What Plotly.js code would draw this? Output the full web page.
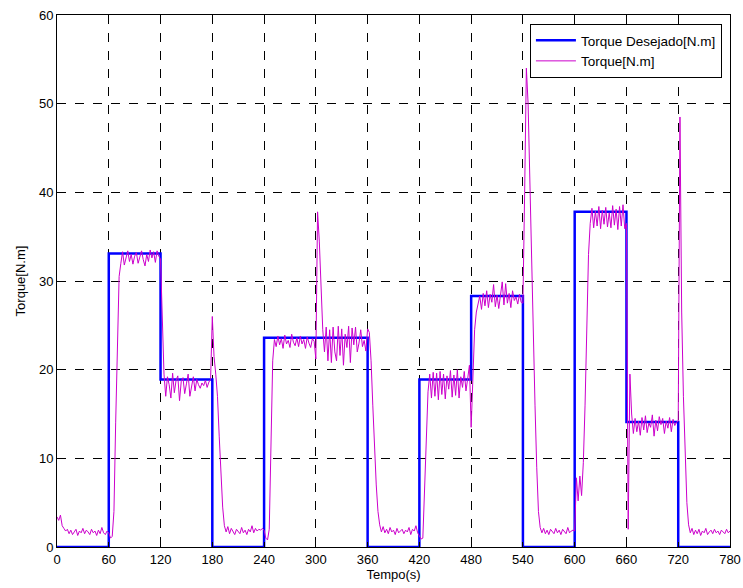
<!DOCTYPE html>
<html>
<head>
<meta charset="utf-8">
<script src="https://cdn.plot.ly/plotly-3.0.1.min.js"></script>
<style>html,body{margin:0;padding:0;background:#fff;}#chart{width:743px;height:588px;}</style>
</head>
<body>
<div id="chart"></div>
<script>
// Desired torque (step reference)
var desiredTime = [0, 60, 120, 180, 240, 300, 360, 420, 480, 540, 600, 660, 720, 780];
var desiredTorque = [0, 33.1, 18.9, 0, 23.6, 23.6, 0, 18.9, 28.3, 0, 37.8, 14.1, 0, 0];

// Measured torque, sampled every 2 s from t = 0 to 780 s
var sampleStep = 2;
var measuredTorque = [
  3.4, 3.0, 3.6, 2.4, 2.1, 1.8, 2.0, 1.5, 1.9, 1.4,
  1.7, 2.0, 1.3, 1.8, 1.6, 2.1, 1.5, 1.9, 1.7, 1.4,
  2.0, 1.6, 1.8, 1.3, 1.9, 1.5, 2.2, 1.6, 1.4, 1.8,
  1.6, 1.0, 1.2, 4.0, 14.0, 24.0, 30.5, 32.0, 33.3, 31.8,
  32.6, 33.4, 32.2, 33.0, 31.9, 32.8, 33.2, 32.0, 32.7, 33.4,
  32.4, 31.7, 33.0, 32.2, 33.5, 32.6, 33.3, 32.1, 33.4, 32.8,
  32.5, 26.0, 19.5, 17.0, 19.2, 18.3, 16.8, 19.6, 17.4, 18.8,
  19.3, 16.5, 18.7, 19.1, 17.3, 18.4, 19.5, 17.0, 18.2, 19.2,
  17.6, 18.9, 18.3, 17.9, 18.5, 18.2, 18.8, 18.0, 18.6, 18.9,
  26.0, 21.5, 19.5, 17.0, 12.5, 8.0, 4.5, 2.4, 1.7, 2.3,
  1.5, 2.1, 1.7, 1.4, 2.0, 1.8, 1.5, 2.2, 1.6, 1.9,
  1.4, 2.0, 1.7, 2.4, 1.6, 2.1, 1.8, 2.0, 1.9, 2.1,
  1.9, 1.0, 0.8, 2.0, 12.0, 21.0, 23.4, 22.6, 23.8, 22.8,
  23.5, 22.4, 23.9, 22.9, 23.3, 22.5, 24.0, 23.1, 22.7, 23.6,
  22.6, 23.8, 22.9, 23.4, 22.4, 23.7, 23.0, 22.5, 23.5, 23.2,
  21.2, 37.8, 34.5, 30.0, 24.5, 22.0, 24.8, 21.0, 24.5, 20.8,
  24.8, 22.0, 21.0, 24.9, 21.6, 24.6, 20.5, 24.0, 22.5, 24.9,
  20.8, 24.7, 22.8, 24.8, 22.0, 23.0, 24.5, 22.6, 23.3, 22.1,
  24.6, 24.2, 21.0, 16.0, 11.0, 7.0, 4.0, 2.5, 1.7, 2.3,
  1.6, 2.0, 1.5, 2.2, 1.7, 1.9, 1.4, 2.1, 1.6, 1.8,
  2.0, 1.5, 1.9, 1.7, 2.2, 1.4, 2.0, 1.8, 2.4, 1.6,
  1.2, 0.9, 1.0, 6.0, 13.0, 17.5, 19.5, 16.8, 19.7, 17.0,
  19.6, 16.6, 19.8, 17.2, 19.5, 16.7, 19.3, 17.8, 19.9, 16.9,
  19.4, 17.1, 20.0, 16.8, 19.2, 18.0, 19.8, 17.6, 19.0, 20.5,
  13.5, 20.0, 24.5, 26.5, 27.5, 28.3, 26.8, 28.6, 27.2, 28.9,
  27.0, 28.5, 27.6, 29.6, 27.1, 28.4, 26.9, 28.8, 29.9, 27.3,
  29.7, 27.5, 28.6, 27.0, 28.9, 27.8, 28.2, 27.4, 28.5, 27.6,
  27.5, 40.0, 54.0, 50.0, 41.0, 32.0, 24.0, 16.0, 9.0, 4.0,
  2.2, 1.6, 2.1, 1.5, 1.9, 1.4, 2.0, 1.7, 1.5, 2.1,
  1.6, 1.9, 1.4, 2.0, 1.7, 1.5, 2.2, 1.6, 1.8, 1.9,
  1.8, 7.8, 5.2, 8.0, 5.8, 9.5, 16.0, 25.0, 33.0, 36.5,
  38.2, 36.0, 37.9, 36.2, 38.4, 35.9, 38.0, 36.4, 38.3, 36.1,
  37.7, 36.0, 38.5, 36.3, 38.1, 35.8, 38.4, 36.2, 38.6, 35.9,
  36.5, 2.0, 19.5, 15.0, 12.8, 14.5, 13.0, 14.2, 12.6, 14.6,
  13.2, 14.8, 12.9, 14.0, 13.5, 14.9, 12.5, 14.3, 13.1, 14.7,
  13.8, 14.5, 12.8, 14.2, 13.4, 14.6, 13.0, 14.4, 13.7, 14.1,
  14.2, 48.5, 26.5, 17.0, 10.5, 5.0, 2.5, 1.6, 2.1, 1.4,
  1.9, 1.5, 2.0, 1.3, 1.8, 1.6, 2.1, 1.4, 1.7, 1.9,
  1.5, 2.0, 1.6, 1.8, 1.4, 1.9, 1.7, 1.5, 2.0, 1.6,
  1.8
];
var measuredTime = measuredTorque.map(function (v, i) { return i * sampleStep; });

var xTicks = [0, 60, 120, 180, 240, 300, 360, 420, 480, 540, 600, 660, 720, 780];
var yTicks = [0, 10, 20, 30, 40, 50, 60];

var traces = [
  {
    x: desiredTime, y: desiredTorque, type: 'scatter', mode: 'lines',
    line: {shape: 'hv', color: '#0000ff', width: 2.5},
    name: 'Torque Desejado[N.m]'
  },
  {
    x: measuredTime, y: measuredTorque, type: 'scatter', mode: 'lines',
    line: {color: '#cc00cc', width: 1},
    name: 'Torque[N.m]'
  }
];

var font = {family: 'Liberation Sans, Arial, sans-serif', size: 13, color: '#000'};

var layout = {
  width: 743, height: 588,
  margin: {l: 57, r: 13, t: 15, b: 41},
  paper_bgcolor: '#fff', plot_bgcolor: '#fff',
  font: font,
  showlegend: true,
  legend: {
    x: 0.988, y: 0.983, xanchor: 'right', yanchor: 'top',
    bgcolor: '#fff', bordercolor: '#000', borderwidth: 1,
    font: {family: 'Liberation Sans, Arial, sans-serif', size: 13.5, color: '#000'},
    itemwidth: 40, tracegroupgap: 0
  },
  xaxis: {
    range: [0, 780], tickvals: xTicks, ticktext: xTicks.map(String),
    showgrid: true, gridcolor: '#000', gridwidth: 1, griddash: 'dash',
    zeroline: false, showline: true, linecolor: '#000', linewidth: 1, mirror: 'ticks',
    ticks: 'inside', ticklen: 5, tickcolor: '#000',
    title: {text: 'Tempo(s)', font: font, standoff: 4}
  },
  yaxis: {
    range: [0, 60], tickvals: yTicks, ticktext: yTicks.map(String),
    showgrid: true, gridcolor: '#000', gridwidth: 1, griddash: 'dash',
    zeroline: false, showline: true, linecolor: '#000', linewidth: 1, mirror: 'ticks',
    ticks: 'inside', ticklen: 5, tickcolor: '#000',
    title: {text: 'Torque[N.m]', font: font, standoff: 10}
  }
};

Plotly.newPlot('chart', traces, layout, {displayModeBar: false, staticPlot: true});
</script>
</body>
</html>
